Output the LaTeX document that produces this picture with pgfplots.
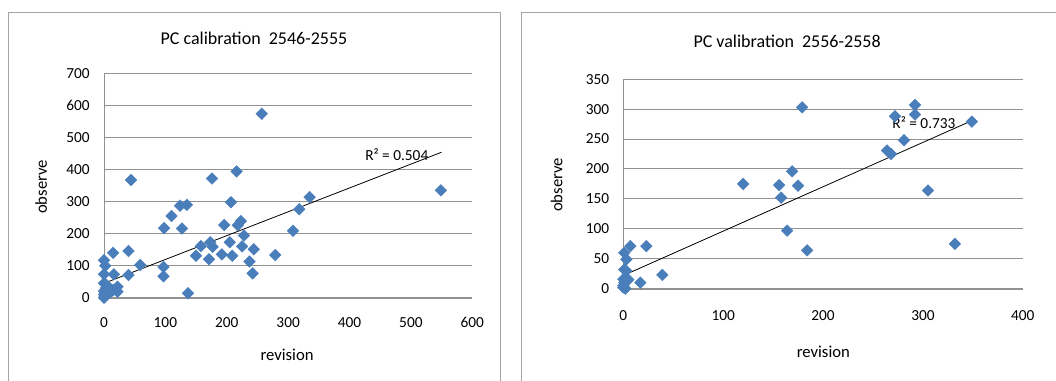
\documentclass[border=0pt]{standalone}
\usepackage{fontspec}
\setmainfont{Carlito}
\usepackage{pgfplots}
\pgfplotsset{compat=1.18}
\definecolor{mk}{RGB}{74,126,187}
\definecolor{gridc}{RGB}{145,145,145}
\definecolor{framec}{RGB}{165,165,165}
\pgfplotsset{
  exstyle/.style={
    anchor=south west, scale only axis,
    axis lines=left, axis line style={-},
    x axis line style={gridc, line width=1.5pt},
    y axis line style={gridc, line width=0.75pt},
    ymajorgrids, major grid style={gridc, line width=0.75pt},
    major tick length=0pt,
    tick label style={font=\fontsize{11.5}{13}\selectfont, black},
    yticklabel style={anchor=east, inner sep=0pt, xshift=-10.5pt},
    /pgf/number format/assume math mode=true,
    clip=false,
  },
  dia/.style={only marks, mark=square*, mark size=3.1pt, mark options={rotate=45, fill=mk, draw=mk, line width=0.3pt}},
}
\begin{document}
\begin{tikzpicture}
\path[use as bounding box] (0,0) rectangle (792pt,285pt);
% frames
\draw[framec, line width=0.75pt] (6.2pt,-2pt) -- (6.2pt,275.8pt) -- (375.5pt,275.8pt) -- (375.5pt,-2pt);
\draw[framec, line width=0.75pt] (391.3pt,-2pt) -- (391.3pt,275.8pt) -- (795pt,275.8pt);
% titles and labels
\node[font=\fontsize{13.5}{15}\selectfont] at (190.5pt,256.3pt) {PC calibration\ \ 2546-2555};
\node[font=\fontsize{13.5}{15}\selectfont] at (590.3pt,254.3pt) {PC valibration\ \ 2556-2558};
\node[font=\fontsize{12.5}{14}\selectfont, rotate=90] at (30.8pt,144.8pt) {observe};
\node[font=\fontsize{12.5}{14}\selectfont, rotate=90] at (417.5pt,146.3pt) {observe};
\node[font=\fontsize{12.5}{14}\selectfont] at (215.3pt,18.8pt) {revision};
\node[font=\fontsize{12.5}{14}\selectfont] at (617.5pt,21.2pt) {revision};

\begin{axis}[exstyle,
  at={(78pt,61.7pt)}, width=276.2pt, height=168.3pt,
  xmin=0, xmax=600, ymin=0, ymax=700,
  xtick={0,100,...,600}, ytick={0,100,...,700},
  xticklabel style={anchor=center, inner sep=0pt, yshift=-18.75pt},
]
\addplot[dia] coordinates {
(257,574) (44,367) (216,394) (176,372) (549,335) (335,314) (318,276) (308,209)
(279,133) (207,298) (124,287) (135,290) (110,255) (98,217) (127,216) (196,227)
(223,239) (218,226) (228,194) (205,173) (225,160) (173,173) (177,159) (158,161)
(150,131) (171,120) (192,135) (209,131) (244,151) (237,113) (242,76) (137,14)
(97,96) (97,67) (59,102) (40,146) (40,71) (15,140) (16,73) (0,117) (2,100)
(0,73) (0,45) (22,34) (22,19) (15,24) (0,0) (2,5) (5,12) (0,20) (3,30) (8,15)
(10,28) (0,10) (1,3) (4,40) (12,20)
};
\addplot[black, line width=0.6pt] coordinates {(0,45) (550,454)};
\node[font=\fontsize{11.5}{13}\selectfont] at (axis cs:477,447) {R² = 0.504};
\end{axis}

\begin{axis}[exstyle,
  at={(467.5pt,68.5pt)}, width=299.6pt, height=157.1pt,
  xmin=0, xmax=400, ymin=0, ymax=350,
  xtick={0,100,...,400}, ytick={0,50,...,350},
  xticklabel style={anchor=center, inner sep=0pt, yshift=-20.25pt},
]
\addplot[dia] coordinates {
(179,303) (292,307) (292,291) (272,288) (349,279) (281,248) (264,231) (268,225)
(169,196) (120,175) (156,173) (175,172) (158,152) (305,164) (164,97) (184,64)
(332,75) (23,71) (7,71) (1,60) (3,49) (1,32) (39,23) (17,10) (0,16) (5,15)
(0,2) (2,0) (0,5) (3,30) (1,10)
};
\addplot[black, line width=0.6pt] coordinates {(0,22) (348,280)};
\node[font=\fontsize{11.5}{13}\selectfont] at (axis cs:301,277) {R² = 0.733};
\end{axis}
\end{tikzpicture}
\end{document}
